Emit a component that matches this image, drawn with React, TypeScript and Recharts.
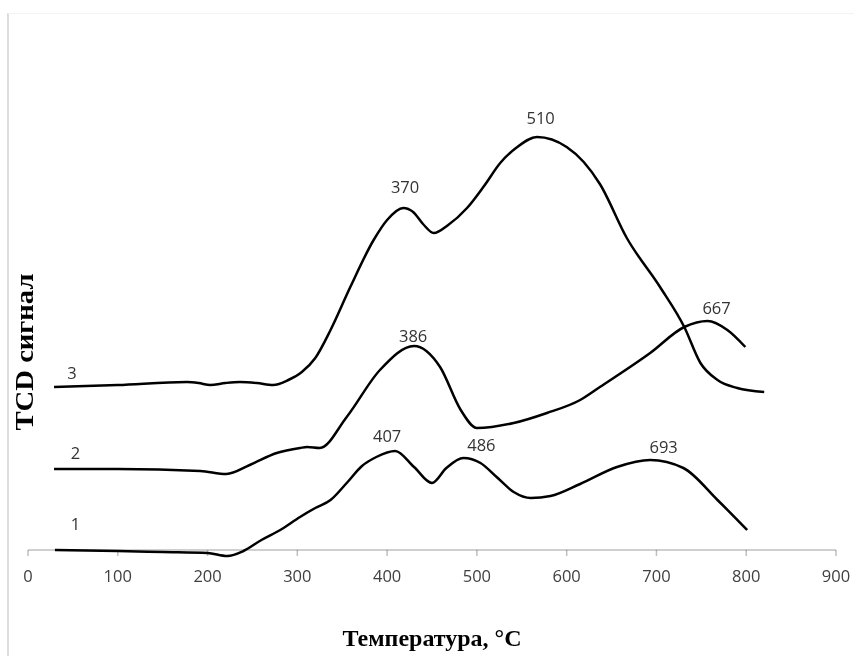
import React from 'react';
import { ComposedChart, Line, XAxis, YAxis, ReferenceDot } from 'recharts';

const xTicks = [0, 100, 200, 300, 400, 500, 600, 700, 800, 900];

// Curve 1 (bottom)
const curve1 = [
  { t: 30, v: 0 }, { t: 100, v: -1 }, { t: 150, v: -2 }, { t: 200, v: -3 },
  { t: 222, v: -6 }, { t: 240, v: -1 }, { t: 260, v: 10 }, { t: 281, v: 20 },
  { t: 303, v: 33 }, { t: 320, v: 42 }, { t: 337, v: 50 }, { t: 355, v: 67 },
  { t: 372, v: 84 }, { t: 388, v: 93 }, { t: 409, v: 99 }, { t: 430, v: 83 },
  { t: 450, v: 67 }, { t: 466, v: 82 }, { t: 485, v: 92 }, { t: 504, v: 87 },
  { t: 522, v: 73 }, { t: 541, v: 58 }, { t: 560, v: 52 }, { t: 582, v: 54 },
  { t: 615, v: 66 }, { t: 656, v: 83 }, { t: 693, v: 90 }, { t: 730, v: 82 },
  { t: 768, v: 50 }, { t: 801, v: 20 },
];

// Curve 2 (middle)
const curve2 = [
  { t: 29, v: 81 }, { t: 100, v: 81 }, { t: 192, v: 79 }, { t: 221, v: 76 },
  { t: 247, v: 85 }, { t: 277, v: 97 }, { t: 303, v: 102 }, { t: 311, v: 103 },
  { t: 325, v: 102 }, { t: 355, v: 133 }, { t: 392, v: 180 }, { t: 430, v: 204 },
  { t: 459, v: 183 }, { t: 482, v: 140 }, { t: 500, v: 122 }, { t: 541, v: 127 },
  { t: 578, v: 137 }, { t: 615, v: 150 }, { t: 637, v: 163 }, { t: 693, v: 197 },
  { t: 731, v: 223 }, { t: 757, v: 229 }, { t: 779, v: 220 }, { t: 799, v: 203 },
];

// Curve 3 (top)
const curve3 = [
  { t: 29, v: 163 }, { t: 100, v: 165 }, { t: 177, v: 168 }, { t: 190, v: 167 },
  { t: 203, v: 165 }, { t: 220, v: 167 }, { t: 236, v: 168 }, { t: 255, v: 167 },
  { t: 273, v: 165 }, { t: 290, v: 170 }, { t: 305, v: 178 }, { t: 320, v: 192 },
  { t: 337, v: 220 }, { t: 359, v: 263 }, { t: 385, v: 310 },
  { t: 400, v: 330 }, { t: 418, v: 342 }, { t: 429, v: 338 }, { t: 440, v: 326 },
  { t: 452, v: 317 }, { t: 468, v: 325 }, { t: 489, v: 342 }, { t: 508, v: 364 },
  { t: 526, v: 387 }, { t: 545, v: 403 }, { t: 567, v: 413 }, { t: 600, v: 403 },
  { t: 619, v: 388 }, { t: 637, v: 366 }, { t: 667, v: 312 }, { t: 704, v: 263 },
  { t: 731, v: 223 }, { t: 749, v: 187 }, { t: 768, v: 170 }, { t: 790, v: 162 },
  { t: 820, v: 158 },
];

const curveNumbers = [
  { t: 53, v: 26, text: '1' },
  { t: 53, v: 97, text: '2' },
  { t: 49, v: 177, text: '3' },
];

const peakLabels = [
  { t: 400, v: 114, text: '407' },
  { t: 505, v: 105, text: '486' },
  { t: 708, v: 103, text: '693' },
  { t: 429, v: 214, text: '386' },
  { t: 767, v: 242, text: '667' },
  { t: 420, v: 363, text: '370' },
  { t: 571, v: 432, text: '510' },
];

const xTitle = 'Температура, °C';
const yTitle = 'TCD сигнал';

const XTitle = (props: any) => {
  const vb = props.viewBox || { x: 28, y: 550, width: 808, height: 30 };
  const x = vb.x + vb.width / 2;
  const y = vb.y + 96;
  return (
    <text x={x} y={y} textAnchor="middle" fill="#000" fontFamily="'Liberation Serif', serif" fontWeight="bold" fontSize={24}>
      {xTitle}
    </text>
  );
};

const labelStyle = { fill: '#333', fontSize: 16.5, fontFamily: "'Open Sans', sans-serif" };

const css =
  '.recharts-wrapper g[clip-path], .recharts-wrapper path[clip-path] { clip-path: none !important; }' +
  '.recharts-cartesian-axis-line, .recharts-cartesian-axis-tick-line { mix-blend-mode: multiply; }';

export default function App() {
  return (
    <div style={{ position: 'absolute', left: 0, top: 0, width: 854, height: 656, background: '#fff' }}>
      <style>{css}</style>
      <div style={{ position: 'absolute', left: 7, top: 13, width: 847, height: 643, borderLeft: '2px solid #dcdcdc', borderTop: '1px solid #f3f3f3', boxSizing: 'border-box' }} />
      <div style={{ position: 'absolute', left: 0, top: 0 }}>
        <ComposedChart width={854} height={656} margin={{ top: 50, right: 18, bottom: 76, left: 28 }}>
          <XAxis
            type="number"
            dataKey="t"
            domain={[0, 900]}
            allowDataOverflow
            ticks={xTicks}
            height={30}
            tickSize={6}
            tickMargin={14}
            axisLine={{ stroke: '#bfbfbf', strokeWidth: 1.5 }}
            tickLine={{ stroke: '#bfbfbf', strokeWidth: 1.5 }}
            tick={{ fill: '#404040', fontSize: 16.5, fontFamily: "'Open Sans', sans-serif" }}
            label={<XTitle />}
          />
          <YAxis type="number" domain={[0, 500]} allowDataOverflow hide />
          <Line data={curve1} dataKey="v" type="monotone" stroke="#000" strokeWidth={2.5} dot={false} isAnimationActive={false} />
          <Line data={curve2} dataKey="v" type="monotone" stroke="#000" strokeWidth={2.5} dot={false} isAnimationActive={false} />
          <Line data={curve3} dataKey="v" type="monotone" stroke="#000" strokeWidth={2.5} dot={false} isAnimationActive={false} />
          {curveNumbers.map((p) => (
            <ReferenceDot key={'n' + p.text} x={p.t} y={p.v} r={0} fill="none" stroke="none" ifOverflow="visible" label={{ value: p.text, position: 'center', ...labelStyle }} />
          ))}
          {peakLabels.map((p) => (
            <ReferenceDot key={'p' + p.text} x={p.t} y={p.v} r={0} fill="none" stroke="none" ifOverflow="visible" label={{ value: p.text, position: 'center', ...labelStyle }} />
          ))}
        </ComposedChart>
      </div>
      <svg width={60} height={656} style={{ position: 'absolute', left: 0, top: 0, pointerEvents: 'none' }}>
        <text x={33} y={352} textAnchor="middle" fill="#000" fontFamily="'Liberation Serif', serif" fontWeight="bold" fontSize={25} textLength={157} lengthAdjust="spacingAndGlyphs" transform="rotate(-90, 33, 352)">
          {yTitle}
        </text>
      </svg>
    </div>
  );
}
